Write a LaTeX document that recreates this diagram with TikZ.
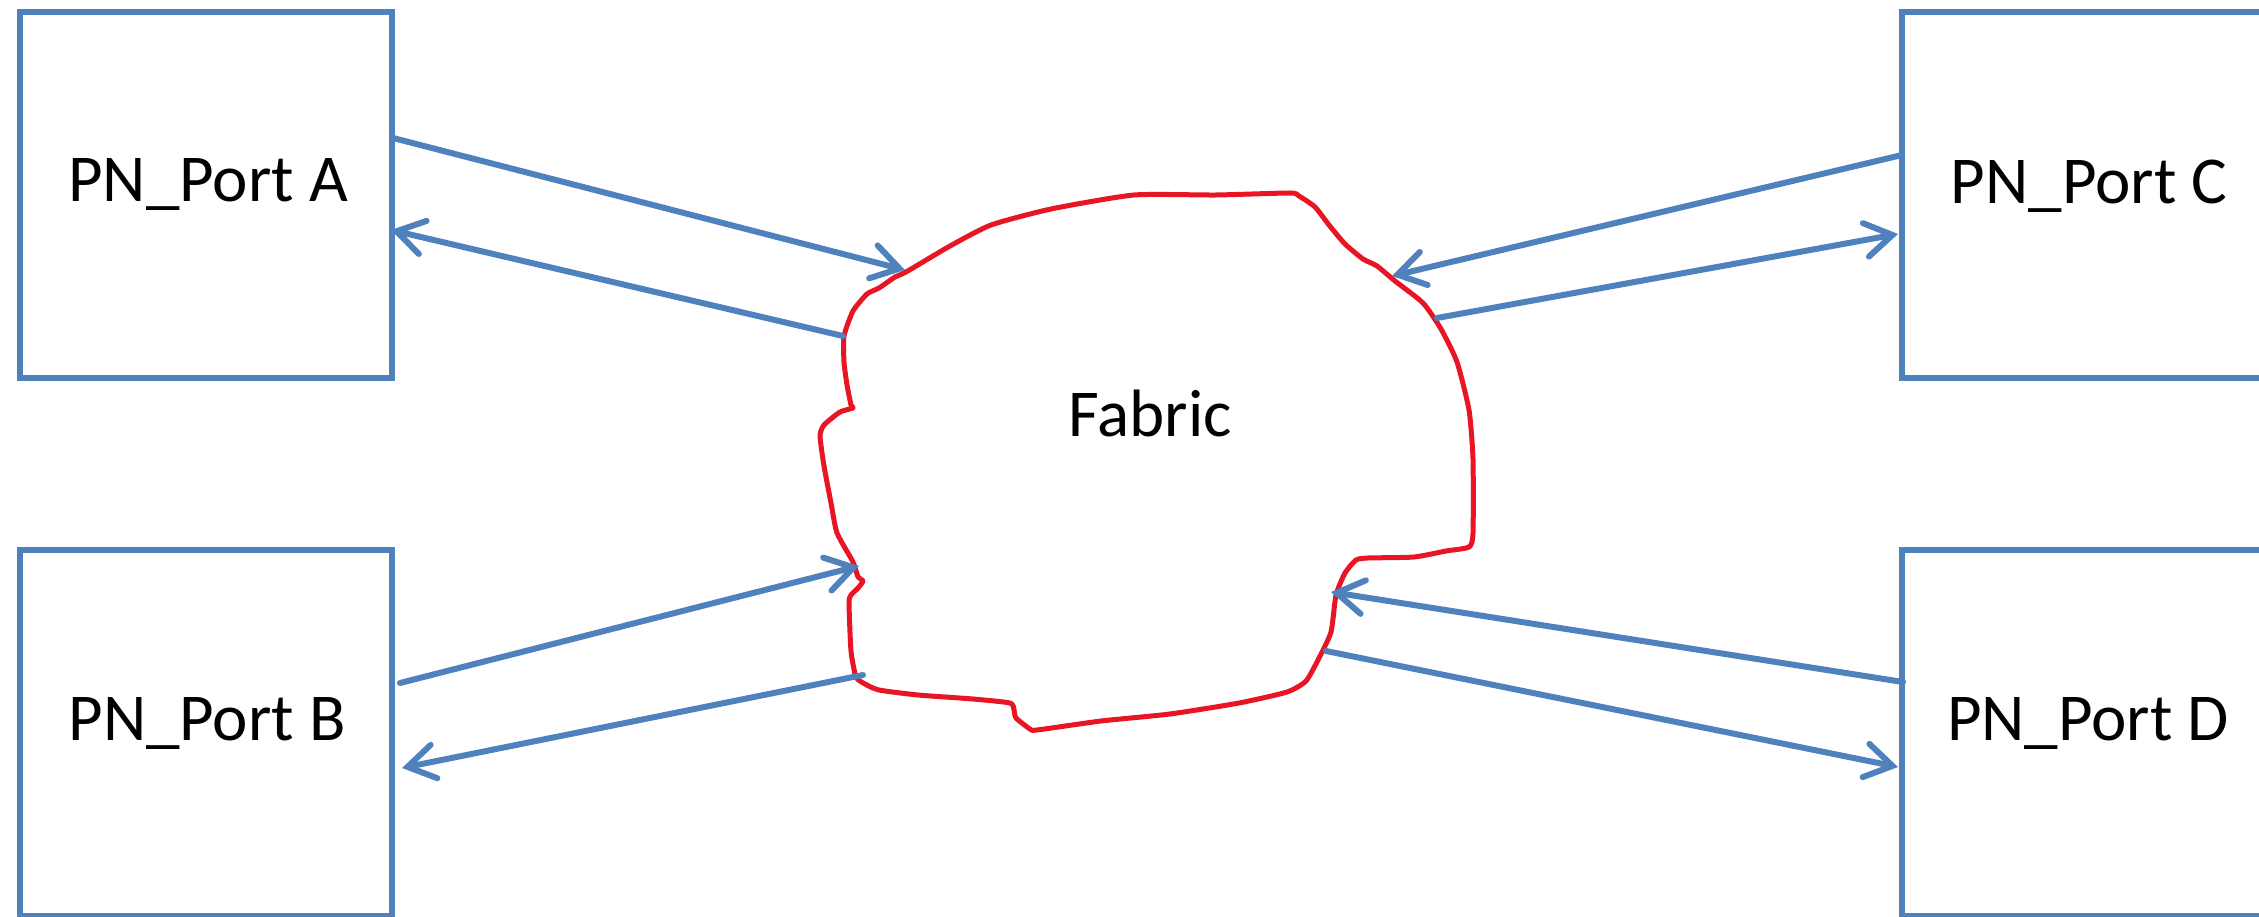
\documentclass[tikz,border=0pt]{standalone}
\usepackage{fontspec}
\setmainfont{Carlito}
\usetikzlibrary{arrows.meta,shadows}
\definecolor{pblue}{RGB}{79,129,189}
\definecolor{fred}{RGB}{232,22,36}
\begin{document}
\begin{tikzpicture}[x=1pt,y=-1pt,
  portbox/.style={draw=pblue, line width=6pt, fill=white, minimum width=372pt, minimum height=366pt, inner sep=0pt,
    drop shadow={shadow xshift=3pt, shadow yshift=-3pt, opacity=0.25, fill=gray}},
  lbl/.style={anchor=base, inner sep=0pt, font=\fontsize{67}{80}\selectfont},
  link/.style={draw=pblue, line width=6pt, line cap=round, -{Straight Barb[length=27pt, width=34pt, line cap=round]}},
  cloudline/.style={draw=fred, line width=5pt, line join=round}]
\useasboundingbox (0,0) rectangle (2259,917);
% boxes
\node[portbox] (A) at (206,195) {};
\node[portbox] (B) at (206,733) {};
\node[portbox] (C) at (2088,195) {};
\node[portbox] (D) at (2088,733) {};
\node[lbl] (At) at (208,202) {PN\_Port A};
\node[lbl] (Bt) at (207,740) {PN\_Port B};
\node[lbl] (Ct) at (2089,204) {PN\_Port C};
\node[lbl] (Dt) at (2088,740) {PN\_Port D};
% cloud
\draw[cloudline] plot[smooth cycle, tension=0.35] coordinates {
 (906,272) (950,246) (991,225) (1051,209) (1134,195) (1216,195) (1290,193) (1299,196) (1315,207)
 (1329,225) (1345,244) (1363,259) (1377,266) (1395,281) (1423,303) (1441,329) (1457,362)
 (1469,410) (1473,459) (1473,533) (1469,547) (1446,551) (1414,557) (1368,558) (1356,560)
 (1345,573) (1336,595) (1331,632) (1319,658) (1306,681) (1287,692) (1239,703) (1170,714)
 (1101,721) (1037,730) (1030,729) (1016,718) (1014,710) (1010,703) (973,699) (918,695)
 (879,690) (865,684) (856,677) (851,651) (849,603) (851,595) (858,588) (863,581) (858,577)
 (853,562) (837,533) (831,503) (824,466) (820,436) (824,425) (840,412) (853,408) (851,405)
 (847,385) (844,362) (844,336) (853,311) (867,294) (879,288) (895,277)};
\node[lbl] (fab) at (1150,436) {Fabric};
% connector end points
\coordinate (a1) at (393,138);  \coordinate (f1) at (905,270);
\coordinate (f2) at (843,336);  \coordinate (a2) at (391,230);
\coordinate (b1) at (400,683);  \coordinate (f3) at (859,566);
\coordinate (f4) at (863,675);  \coordinate (b2) at (402,768);
\coordinate (c1) at (1902,155); \coordinate (f5) at (1392,276);
\coordinate (f6) at (1437,318); \coordinate (c2) at (1898,234);
\coordinate (d1) at (1903,682); \coordinate (f7) at (1331,592);
\coordinate (f8) at (1326,651); \coordinate (d2) at (1898,767);
\draw[link] (a1) -- (f1);
\draw[link] (f2) -- (a2);
\draw[link] (b1) -- (f3);
\draw[link] (f4) -- (b2);
\draw[link] (c1) -- (f5);
\draw[link] (f6) -- (c2);
\draw[link] (d1) -- (f7);
\draw[link] (f8) -- (d2);
\end{tikzpicture}
\end{document}
